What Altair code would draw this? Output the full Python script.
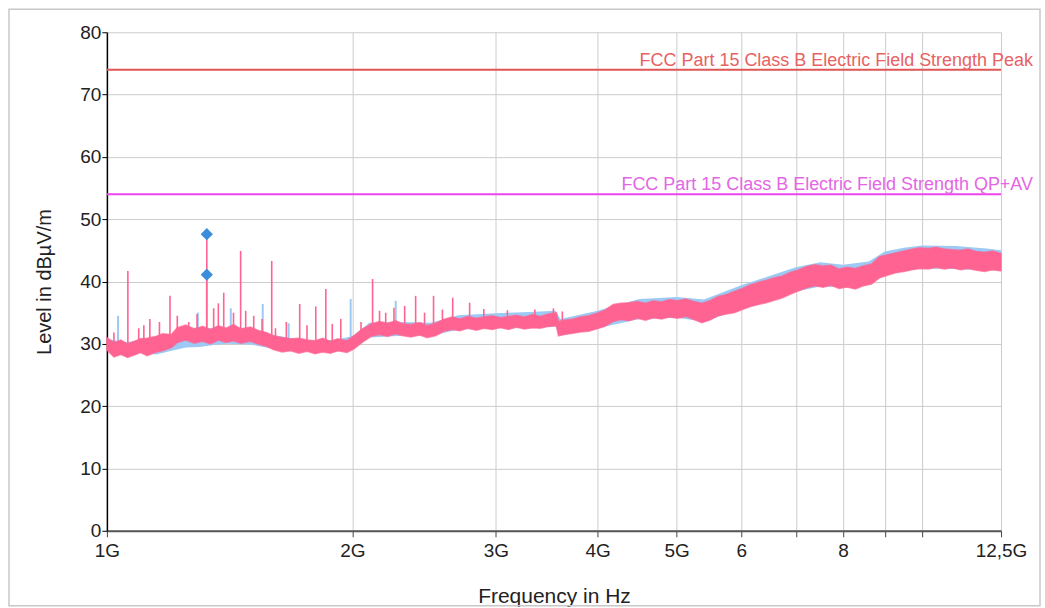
import altair as alt
import pandas as pd

FONT = "Liberation Sans"

# ---- pink trace (noise band envelope), GHz / dBuV/m ----
P_FREQ = [1.00, 1.02, 1.04, 1.06, 1.08, 1.10, 1.12, 1.15, 1.17, 1.20,
          1.22, 1.25, 1.28, 1.31, 1.34, 1.37, 1.40, 1.43, 1.46, 1.50,
          1.53, 1.57, 1.60, 1.64, 1.68, 1.72, 1.76, 1.80, 1.84, 1.88,
          1.92, 1.97, 2.01, 2.06, 2.11, 2.16, 2.21, 2.26, 2.31, 2.36,
          2.42, 2.47, 2.53, 2.59, 2.65, 2.71, 2.77, 2.84, 2.90, 2.97,
          3.04, 3.11, 3.18, 3.25, 3.33, 3.40, 3.48, 3.56, 3.58, 3.64,
          3.73, 3.81, 3.90, 3.99, 4.08, 4.18, 4.27, 4.37, 4.47, 4.58,
          4.68, 4.79, 4.90, 5.01, 5.13, 5.25, 5.37, 5.49, 5.62, 5.75,
          5.88, 6.02, 6.16, 6.30, 6.44, 6.59, 6.74, 6.90, 7.06, 7.22,
          7.39, 7.56, 7.73, 7.91, 8.09, 8.28, 8.47, 8.67, 8.87, 9.07,
          9.28, 9.50, 9.72, 9.94, 10.17, 10.41, 10.65, 10.89, 11.14, 11.40,
          11.66, 11.93, 12.21, 12.50]
P_LOW = [29.0, 27.9, 28.3, 27.8, 28.2, 28.6, 28.1, 28.7, 28.9, 29.4,
         30.2, 30.6, 30.1, 30.4, 30.0, 30.6, 30.2, 30.5, 30.1, 30.4,
         30.0, 29.6, 29.1, 28.7, 28.9, 28.5, 28.8, 28.4, 28.7, 28.5,
         28.9, 28.6, 29.2, 30.3, 31.2, 31.5, 31.2, 31.6, 31.3, 31.1,
         31.4, 31.0, 31.3, 32.0, 32.3, 32.1, 32.5, 32.2, 32.5, 32.3,
         32.6, 32.3, 32.7, 32.4, 32.6, 32.5, 32.8, 32.9, 31.3, 31.5,
         31.7, 31.9, 32.0, 32.4, 32.8, 33.6, 33.9, 33.7, 34.1, 33.8,
         34.2, 34.0, 34.3, 34.1, 34.4, 33.9, 33.4, 33.8, 34.5, 34.8,
         35.0, 35.5, 36.0, 36.3, 36.6, 37.0, 37.4, 38.0, 38.5, 39.0,
         39.3, 39.1, 39.4, 38.9, 39.1, 38.8, 39.3, 39.6, 40.6, 41.0,
         41.4, 41.6, 41.9, 42.1, 42.0, 42.3, 42.0, 42.2, 41.9, 42.1,
         41.8, 41.6, 41.9, 41.7]
P_HIGH = [31.0, 30.2, 30.6, 30.0, 30.4, 30.8, 30.9, 31.2, 31.6, 31.5,
          32.6, 33.0, 32.4, 32.8, 32.3, 32.9, 32.5, 33.1, 32.4, 32.7,
          32.2, 31.8, 31.3, 31.0, 30.8, 30.9, 30.6, 30.5, 30.9, 30.4,
          30.8, 30.5, 31.3, 32.4, 33.2, 33.6, 33.3, 33.7, 33.2, 33.1,
          33.4, 32.9, 33.3, 33.9, 34.3, 34.0, 34.4, 34.1, 34.3, 34.5,
          34.2, 34.4, 34.6, 34.3, 34.7, 34.4, 34.8, 35.0, 33.6, 33.8,
          34.0, 34.3, 34.5, 34.9, 35.4, 36.3, 36.5, 36.6, 36.8, 36.5,
          36.9, 36.7, 37.1, 36.9, 37.2, 36.8, 36.5, 36.9, 37.6, 37.9,
          38.4, 38.9, 39.5, 39.9, 40.2, 40.6, 40.9, 41.5, 41.9, 42.4,
          42.7, 42.5, 42.6, 42.0, 42.3, 42.1, 42.5, 42.8, 44.0, 44.3,
          44.6, 44.9, 45.2, 45.4, 45.3, 45.5, 45.2, 45.1, 45.0, 45.2,
          44.8, 44.7, 44.9, 44.5]

# ---- light blue trace envelope ----
B_FREQ = [1.00, 1.05, 1.10, 1.15, 1.20, 1.25, 1.30, 1.35, 1.40, 1.50,
          1.60, 1.70, 1.80, 1.90, 2.00, 2.10, 2.30, 2.50, 2.70, 3.00,
          3.30, 3.55, 3.60, 4.00, 4.50, 5.00, 5.40, 6.00, 6.50, 7.00,
          7.50, 8.00, 8.60, 9.00, 9.50, 10.00, 11.00, 12.00, 12.50]
B_LOW = [29.0, 28.2, 28.6, 28.3, 28.9, 29.4, 29.5, 29.8, 30.0, 29.9,
         29.2, 28.9, 28.7, 28.7, 29.1, 31.0, 31.3, 31.3, 32.3, 32.5,
         32.5, 32.8, 31.3, 32.5, 34.0, 34.2, 33.6, 35.6, 36.9, 38.4,
         39.2, 39.1, 39.6, 41.0, 41.7, 42.1, 42.0, 41.8, 41.8]
B_HIGH = [30.8, 30.2, 30.6, 30.8, 31.3, 32.6, 32.6, 32.5, 32.6, 32.5,
          31.4, 30.8, 30.5, 30.6, 31.2, 33.4, 33.5, 33.4, 34.6, 34.9,
          35.1, 35.3, 34.0, 35.3, 37.2, 37.5, 37.1, 39.4, 40.9, 42.3,
          43.1, 42.7, 43.2, 44.8, 45.4, 45.8, 45.7, 45.3, 45.0]

# ---- narrow spikes ----
PS_FREQ = [1.02, 1.061, 1.094, 1.11, 1.129, 1.16, 1.195, 1.22, 1.26, 1.29,
           1.326, 1.352, 1.37, 1.391, 1.43, 1.459, 1.48, 1.514, 1.55, 1.593,
           1.61, 1.66, 1.724, 1.76, 1.804, 1.856, 1.89, 1.936, 2.05, 2.118,
           2.16, 2.198, 2.25, 2.319, 2.392, 2.453, 2.516, 2.58, 2.656, 2.786,
           2.90, 3.10, 3.35, 3.53, 3.62]
PS_BASE = [28.5, 28.5, 29.0, 29.0, 29.0, 29.0, 29.5, 30.5, 31.0, 31.0,
           31.0, 31.0, 31.0, 31.0, 31.0, 31.0, 31.0, 31.0, 30.5, 30.0,
           29.5, 29.0, 29.0, 29.0, 29.0, 29.0, 29.0, 29.0, 31.0, 32.0,
           32.0, 32.0, 32.0, 32.0, 32.0, 32.0, 32.0, 32.5, 33.0, 33.0,
           33.5, 33.5, 33.5, 33.5, 32.5]
PS_PEAK = [31.8, 41.7, 32.5, 33.0, 34.0, 33.5, 37.7, 34.5, 33.5, 34.8,
           47.5, 35.7, 36.5, 38.2, 35.0, 44.9, 35.3, 34.5, 34.0, 43.3,
           32.5, 33.5, 36.4, 33.0, 36.0, 38.8, 33.2, 34.0, 33.5, 40.4,
           35.3, 35.0, 35.8, 36.1, 37.7, 35.0, 37.7, 35.5, 37.4, 36.6,
           35.6, 35.4, 35.5, 35.7, 35.2]
BS_FREQ = [1.032, 1.293, 1.326, 1.419, 1.553, 1.671, 1.991, 2.261]
BS_BASE = [28.5, 30.0, 31.0, 31.0, 31.0, 29.0, 29.0, 32.0]
BS_PEAK = [34.5, 35.0, 41.0, 35.7, 36.4, 33.3, 37.2, 36.9]

# ---- final measurement markers ----
M_FREQ = [1.326, 1.326]
M_LEVEL = [47.6, 41.1]

# ---- limit lines ----
LIM_NAME = ["FCC Part 15 Class B Electric Field Strength Peak",
            "FCC Part 15 Class B Electric Field Strength QP+AV"]
LIM_LEVEL = [74.0, 54.0]
LIM_COLOR = ["#e05555", "#ee44ee"]
LIM_TEXT_COLOR = ["#e86262", "#e466e4"]

X_TICKS = [1, 2, 3, 4, 5, 6, 7, 8, 9, 10, 12.5]
X_LABELS = ["1G", "2G", "3G", "4G", "5G", "6", "", "8", "", "", "12,5G"]
Y_TICKS = list(range(0, 81, 5))

pink = pd.DataFrame({"f": P_FREQ, "lo": P_LOW, "hi": P_HIGH})
blue = pd.DataFrame({"f": B_FREQ, "lo": B_LOW, "hi": B_HIGH})
pspk = pd.DataFrame({"f": PS_FREQ, "b": PS_BASE, "p": PS_PEAK})
bspk = pd.DataFrame({"f": BS_FREQ, "b": BS_BASE, "p": BS_PEAK})
marks = pd.DataFrame({"f": M_FREQ, "v": M_LEVEL})
lims = pd.DataFrame({"name": LIM_NAME, "lvl": LIM_LEVEL, "c": LIM_COLOR,
                     "tc": LIM_TEXT_COLOR,
                     "f0": [X_TICKS[0]] * 2, "f1": [X_TICKS[-1]] * 2})

label_expr = " : ".join(
    f"datum.value == {v} ? '{l}'" for v, l in zip(X_TICKS, X_LABELS)) + " : ''"

xscale = alt.Scale(type="log", domain=[1, 12.5], nice=False)
yscale = alt.Scale(domain=[0, 80], nice=False)

xaxis = alt.Axis(values=X_TICKS, labelExpr=label_expr, title="Frequency in Hz",
                 labelFont=FONT, labelFontSize=19, labelColor="#222",
                 titleFont=FONT, titleFontSize=21, titleFontWeight="normal",
                 titleColor="#222", titlePadding=25,
                 domainColor="#555", domainWidth=2, tickColor="#444",
                 tickSize=6, labelPadding=5, gridColor="#cccccc", labelFlush=False)
yaxis = alt.Axis(values=Y_TICKS,
                 labelExpr="datum.value % 10 == 0 ? datum.label : ''",
                 title="Level in dBµV/m", labelFont=FONT, labelFontSize=19,
                 labelColor="#222", titleFont=FONT, titleFontSize=20,
                 titleFontWeight="normal", titleColor="#222", titlePadding=25,
                 domainColor="#000", domainWidth=1.5, tickColor="#000",
                 tickSize=5, labelPadding=1, gridColor="#cccccc")

X = alt.X("f:Q", scale=xscale, axis=xaxis)

frame = alt.Chart(pd.DataFrame({"a": [0]})).mark_rect(
    fill="transparent", stroke="#c8c8c8", strokeWidth=1.5
).encode(x=alt.value(-98), x2=alt.value(934), y=alt.value(-23), y2=alt.value(574))

blue_band = alt.Chart(blue).mark_area(color="#9ccaf4", opacity=1).encode(
    x=X, y=alt.Y("lo:Q", scale=yscale, axis=yaxis), y2="hi:Q")
blue_spk = alt.Chart(bspk).mark_rule(color="#9ccaf4", strokeWidth=2).encode(
    x="f:Q", y="b:Q", y2="p:Q")
pink_band = alt.Chart(pink).mark_area(
    color="#ff6391", opacity=1, stroke="#ff6391", strokeWidth=1.5,
    strokeOpacity=0.7).encode(x="f:Q", y="lo:Q", y2="hi:Q")
pink_spk = alt.Chart(pspk).mark_rule(color="#ff6391", strokeWidth=1.6).encode(
    x="f:Q", y="b:Q", y2="p:Q")
lim_rule = alt.Chart(lims).mark_rule(strokeWidth=2).encode(
    x="f0:Q", x2="f1:Q", y="lvl:Q", color=alt.Color("c:N", scale=None))
lim_text = alt.Chart(lims).mark_text(
    align="right", baseline="alphabetic", dx=32, dy=-4, font=FONT, fontSize=18
).encode(x="f1:Q", y="lvl:Q", text="name:N", color=alt.Color("tc:N", scale=None))
pts = alt.Chart(marks).mark_point(shape="diamond", filled=True, size=150,
                                  color="#3b8ddc", opacity=1).encode(
    x="f:Q", y="v:Q")

chart = alt.layer(frame, blue_band, blue_spk, pink_band, pink_spk, lim_rule,
                  lim_text, pts).properties(
    width=895, height=499, padding={"left": 8, "top": 8, "right": 4, "bottom": 0},
    background="white"
).configure_view(stroke=None).configure_axis(grid=True)

chart.save("out.html", embed_options={"renderer": "svg", "actions": False})
